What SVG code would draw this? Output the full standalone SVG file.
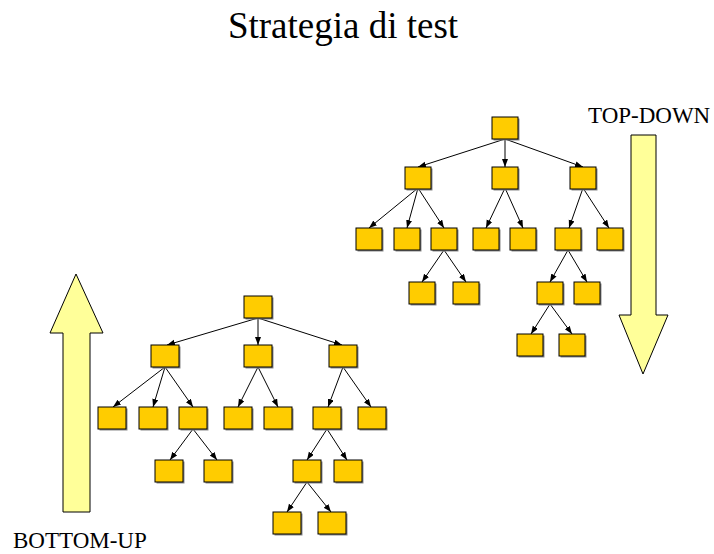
<svg xmlns="http://www.w3.org/2000/svg" width="714" height="554" viewBox="0 0 714 554">
  <style>
    .box { fill: #FFCC00; stroke: #000; stroke-width: 1; }
    .shadow { fill: #8a8a8a; }
    .edge { stroke: #000; stroke-width: 1; fill: none; marker-end: url(#head); }
    .big-arrow { fill: #FFFF99; stroke: #000; stroke-width: 1; }
    .title { font-family: "Liberation Serif", "Times New Roman", serif; font-size: 37px; fill: #000; }
    .label { font-family: "Liberation Serif", "Times New Roman", serif; font-size: 23px; fill: #000; }
  </style>
  <defs>
    <marker id="head" markerUnits="userSpaceOnUse" markerWidth="9" markerHeight="7" refX="8" refY="3" orient="auto">
      <path d="M0,0 L8,3 L0,6 z" fill="#000"/>
    </marker>
    <!-- box with drop shadow -->
    <g id="nodeR">
      <rect class="shadow" x="1.5" y="1.5" width="26" height="22"/>
      <rect class="box" x="0" y="0" width="26" height="22"/>
    </g>
    <g id="nodeL">
      <rect class="shadow" x="1.5" y="1.5" width="28" height="22"/>
      <rect class="box" x="0" y="0" width="28" height="22"/>
    </g>
  </defs>

  <rect width="714" height="554" fill="#fff"/>

  <text class="title" x="343" y="38" text-anchor="middle">Strategia di test</text>

  <!-- direction arrows -->
  <g id="arrow-up">
    <polygon class="big-arrow" points="76,274 103,333 90,333 90,512 63,512 63,333 50,333"/>
    <text class="label" x="13" y="548">BOTTOM-UP</text>
  </g>
  <g id="arrow-down">
    <polygon class="big-arrow" points="631,135 656,135 656,315 668,315 643,374 619,315 631,315"/>
    <text class="label" x="588" y="123">TOP-DOWN</text>
  </g>

  <!-- connectors -->
  <g id="connectors">
    <!-- right tree -->
    <line class="edge" x1="505" y1="139" x2="418" y2="167"/>
    <line class="edge" x1="505" y1="139" x2="505" y2="167"/>
    <line class="edge" x1="505" y1="139" x2="583" y2="167"/>
    <line class="edge" x1="418" y1="188" x2="369" y2="228"/>
    <line class="edge" x1="418" y1="188" x2="407" y2="228"/>
    <line class="edge" x1="418" y1="188" x2="444" y2="228"/>
    <line class="edge" x1="505" y1="188" x2="486" y2="228"/>
    <line class="edge" x1="505" y1="188" x2="523" y2="228"/>
    <line class="edge" x1="583" y1="188" x2="569" y2="228"/>
    <line class="edge" x1="583" y1="188" x2="609" y2="228"/>
    <line class="edge" x1="444" y1="250" x2="422" y2="282"/>
    <line class="edge" x1="444" y1="250" x2="466" y2="282"/>
    <line class="edge" x1="568" y1="250" x2="550" y2="282"/>
    <line class="edge" x1="568" y1="250" x2="587" y2="282"/>
    <line class="edge" x1="550" y1="304" x2="531" y2="334"/>
    <line class="edge" x1="550" y1="304" x2="572" y2="334"/>
    <!-- left tree -->
    <line class="edge" x1="258" y1="318" x2="167" y2="345"/>
    <line class="edge" x1="258" y1="318" x2="258" y2="345"/>
    <line class="edge" x1="258" y1="318" x2="342" y2="345"/>
    <line class="edge" x1="165" y1="367" x2="113" y2="407"/>
    <line class="edge" x1="165" y1="367" x2="153" y2="407"/>
    <line class="edge" x1="165" y1="367" x2="193" y2="407"/>
    <line class="edge" x1="258" y1="367" x2="238" y2="407"/>
    <line class="edge" x1="258" y1="367" x2="278" y2="407"/>
    <line class="edge" x1="343" y1="367" x2="328" y2="407"/>
    <line class="edge" x1="343" y1="367" x2="371" y2="407"/>
    <line class="edge" x1="193" y1="429" x2="170" y2="460"/>
    <line class="edge" x1="193" y1="429" x2="217" y2="460"/>
    <line class="edge" x1="327" y1="429" x2="307" y2="460"/>
    <line class="edge" x1="327" y1="429" x2="347" y2="460"/>
    <line class="edge" x1="307" y1="482" x2="287" y2="512"/>
    <line class="edge" x1="307" y1="482" x2="331" y2="512"/>
  </g>

  <!-- right tree nodes -->
  <g id="r-root"><use href="#nodeR" x="492" y="117"/></g>
  <g id="r-a"><use href="#nodeR" x="405" y="167"/></g>
  <g id="r-b"><use href="#nodeR" x="492" y="167"/></g>
  <g id="r-c"><use href="#nodeR" x="570" y="167"/></g>
  <g id="r-a1"><use href="#nodeR" x="356" y="228"/></g>
  <g id="r-a2"><use href="#nodeR" x="394" y="228"/></g>
  <g id="r-a3"><use href="#nodeR" x="431" y="228"/></g>
  <g id="r-b1"><use href="#nodeR" x="473" y="228"/></g>
  <g id="r-b2"><use href="#nodeR" x="510" y="228"/></g>
  <g id="r-c1"><use href="#nodeR" x="555" y="228"/></g>
  <g id="r-c2"><use href="#nodeR" x="597" y="228"/></g>
  <g id="r-a3-1"><use href="#nodeR" x="409" y="282"/></g>
  <g id="r-a3-2"><use href="#nodeR" x="453" y="282"/></g>
  <g id="r-c1-1"><use href="#nodeR" x="537" y="282"/></g>
  <g id="r-c1-2"><use href="#nodeR" x="574" y="282"/></g>
  <g id="r-c1-1-1"><use href="#nodeR" x="517" y="334"/></g>
  <g id="r-c1-1-2"><use href="#nodeR" x="559" y="334"/></g>

  <!-- left tree nodes -->
  <g id="l-root"><use href="#nodeL" x="244" y="296"/></g>
  <g id="l-a"><use href="#nodeL" x="151" y="345"/></g>
  <g id="l-b"><use href="#nodeL" x="244" y="345"/></g>
  <g id="l-c"><use href="#nodeL" x="329" y="345"/></g>
  <g id="l-a1"><use href="#nodeL" x="98" y="407"/></g>
  <g id="l-a2"><use href="#nodeL" x="139" y="407"/></g>
  <g id="l-a3"><use href="#nodeL" x="179" y="407"/></g>
  <g id="l-b1"><use href="#nodeL" x="224" y="407"/></g>
  <g id="l-b2"><use href="#nodeL" x="264" y="407"/></g>
  <g id="l-c1"><use href="#nodeL" x="313" y="407"/></g>
  <g id="l-c2"><use href="#nodeL" x="358" y="407"/></g>
  <g id="l-a3-1"><use href="#nodeL" x="155" y="460"/></g>
  <g id="l-a3-2"><use href="#nodeL" x="204" y="460"/></g>
  <g id="l-c1-1"><use href="#nodeL" x="293" y="460"/></g>
  <g id="l-c1-2"><use href="#nodeL" x="334" y="460"/></g>
  <g id="l-c1-1-1"><use href="#nodeL" x="273" y="512"/></g>
  <g id="l-c1-1-2"><use href="#nodeL" x="318" y="512"/></g>
</svg>
